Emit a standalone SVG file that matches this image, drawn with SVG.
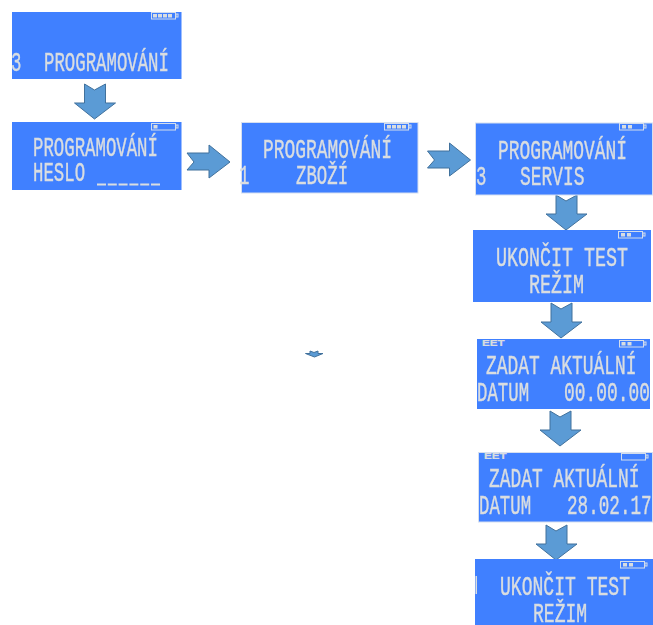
<svg xmlns="http://www.w3.org/2000/svg" width="653" height="625" viewBox="0 0 653 625">
<style>
.box{fill:#4080ff}
.edge{stroke:#d5dff0;stroke-width:1;fill:#4080ff}
text{font-family:"Liberation Mono","DejaVu Sans Mono",monospace;font-size:28px;fill:#d9dde0;stroke:#d9dde0;stroke-width:.45}
.lcd{filter:url(#soft)}
.eet{font-family:"Liberation Sans",Arial,sans-serif;font-size:9px;font-weight:bold;stroke-width:.2}
.arrow{fill:#5b9bd5;stroke:#41719c;stroke-width:1}
.batt{fill:none;stroke:#d3ddec;stroke-width:1}
.seg{fill:#d9dde0}
.rule{stroke:#d9dde0;stroke-width:2;stroke-dasharray:9 1.8;fill:none}
</style>
<defs>
<filter id="soft" x="-5%" y="-20%" width="110%" height="140%"><feGaussianBlur stdDeviation="0.35"/></filter>
<polygon id="down" points="-10,0 0,6 11,0 11,19 21,19 0,35 -20,19 -10,19"/>
<polygon id="right" points="0,8 22,8 22,0 43,17 22,33 22,25 0,25 7,17"/>
<g id="batt"><rect class="batt" x=".5" y=".5" width="24" height="6.5"/><rect class="batt" x="25" y="2" width="2" height="3"/></g>
</defs>

<g id="connectors">
<use href="#down" class="arrow" x="94.500" y="84"/>
<use href="#right" class="arrow" x="187" y="145"/>
<use href="#right" class="arrow" x="427.500" y="143"/>
<use href="#down" class="arrow" x="566" y="195"/>
<use href="#down" class="arrow" x="561" y="303"/>
<use href="#down" class="arrow" x="560" y="411"/>
<use href="#down" class="arrow" x="556" y="525"/>
<polygon class="arrow" points="310,351 314,352.500 318,351 318,353.500 323,353.500 314.500,357 305.500,353.500 310,353.500"/>
</g>

<g id="node-programovani-menu">
<rect class="box" x="12" y="12" width="169.500" height="67"/>
<use href="#batt" x="151" y="12"/>
<g class="seg"><rect x="153" y="14" width="4" height="3.500"/><rect x="158" y="14" width="4" height="3.500"/><rect x="163" y="14" width="4" height="3.500"/><rect x="168" y="14" width="4" height="3.500"/></g>
<g class="lcd">
<text transform="translate(11 71) scale(.62 1)">3</text>
<text transform="translate(44 71) scale(.62 1)">PROGRAMOVÁNÍ</text>
</g>
</g>

<g id="node-heslo">
<rect class="box" x="12" y="122" width="169.500" height="68"/>
<use href="#batt" x="151" y="123"/>
<rect class="seg" x="153.500" y="125" width="4" height="3.500"/>
<g class="lcd">
<text transform="translate(33 156) scale(.62 1)">PROGRAMOVÁNÍ</text>
<text transform="translate(33 181) scale(.62 1)">HESLO</text>
<line class="rule" x1="97" y1="184.500" x2="161" y2="184.500"/>
</g>
</g>

<g id="node-zbozi">
<rect class="edge" x="241.500" y="122.500" width="176.500" height="70.500"/>
<use href="#batt" x="384" y="123"/>
<g class="seg"><rect x="387" y="125" width="4" height="3.500"/><rect x="392" y="125" width="4" height="3.500"/><rect x="397" y="125" width="4" height="3.500"/><rect x="402" y="125" width="4" height="3.500"/></g>
<g class="lcd">
<text transform="translate(263 158) scale(.64 1)">PROGRAMOVÁNÍ</text>
<text transform="translate(239 184) scale(.62 1)">1</text>
<text transform="translate(296 184) scale(.62 1)">ZBOŽÍ</text>
</g>
</g>

<g id="node-servis">
<rect class="edge" x="475.500" y="123" width="177" height="72"/>
<use href="#batt" x="619" y="123"/>
<g class="seg"><rect x="622" y="125" width="4" height="3.500"/><rect x="628" y="125" width="4" height="3.500"/></g>
<g class="lcd">
<text transform="translate(476 185) scale(.62 1)">3</text>
<text transform="translate(498 159) scale(.64 1)">PROGRAMOVÁNÍ</text>
<text transform="translate(520 185) scale(.64 1)">SERVIS</text>
</g>
</g>

<g id="node-ukoncit-1">
<rect class="box" x="473" y="230" width="178" height="72"/>
<use href="#batt" x="618" y="231"/>
<g class="seg"><rect x="621" y="233" width="4" height="3.500"/><rect x="627" y="233" width="4" height="3.500"/></g>
<g class="lcd">
<text transform="translate(496 266) scale(.655 1)">UKONČIT TEST</text>
<text transform="translate(529 293) scale(.655 1)">REŽIM</text>
</g>
</g>

<g id="node-datum-1">
<rect class="box" x="477" y="339" width="173" height="70"/>
<text class="eet" transform="translate(482 346) scale(1.3 1)">EET</text>
<use href="#batt" x="619" y="340"/>
<g class="seg"><rect x="621.500" y="342" width="4" height="3.500"/><rect x="627.500" y="342" width="4" height="3.500"/></g>
<g class="lcd">
<text transform="translate(486 374) scale(.64 1)">ZADAT AKTUÁLNÍ</text>
<text transform="translate(477 401) scale(.62 1)">DATUM</text>
<text transform="translate(564 401) scale(.64 1)">00.00.00</text>
</g>
</g>

<g id="node-datum-2">
<rect class="edge" x="478.500" y="452.500" width="174" height="69.500"/>
<text class="eet" transform="translate(484 459) scale(1.3 1)">EET</text>
<use href="#batt" x="621" y="453"/>
<g class="lcd">
<text transform="translate(489 487) scale(.64 1)">ZADAT AKTUÁLNÍ</text>
<text transform="translate(479 514) scale(.62 1)">DATUM</text>
<text transform="translate(567 514) scale(.63 1)">28.02.17</text>
</g>
</g>

<g id="node-ukoncit-2">
<rect class="box" x="475" y="559" width="178" height="66"/>
<use href="#batt" x="620" y="561"/>
<g class="seg"><rect x="623" y="563" width="4" height="3.500"/><rect x="629" y="563" width="4" height="3.500"/></g>
<rect class="seg" x="475.500" y="576" width="1.500" height="18"/>
<g class="lcd">
<text transform="translate(500 595) scale(.645 1)">UKONČIT TEST</text>
<text transform="translate(533 622) scale(.645 1)">REŽIM</text>
</g>
</g>
</svg>
